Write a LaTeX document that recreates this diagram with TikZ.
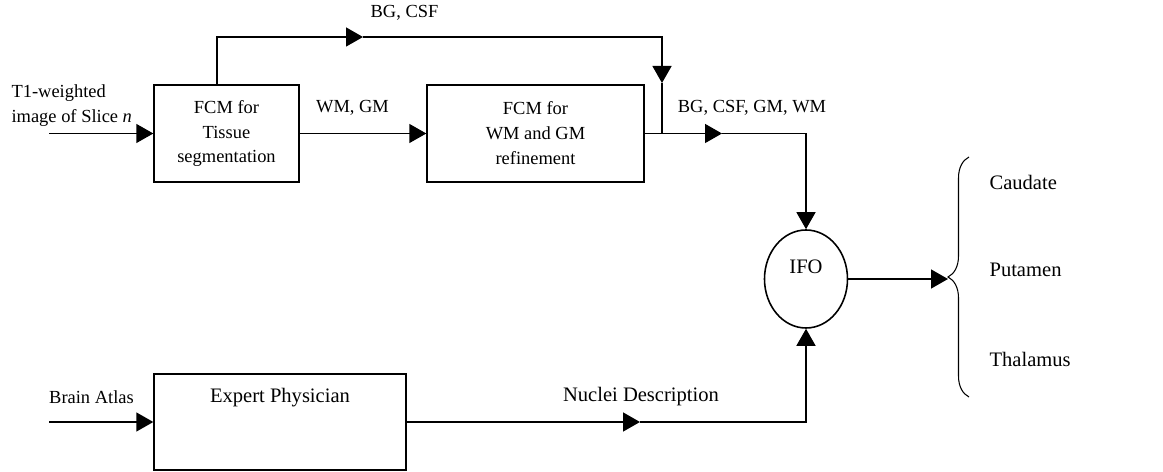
\documentclass[tikz,border=0pt]{standalone}
\usepackage{fontspec}
\setmainfont{Liberation Serif}
\usetikzlibrary{arrows.meta,shapes.geometric,decorations.pathreplacing}

\begin{document}
\begin{tikzpicture}[every node/.style={font=\fontsize{10.5}{14.2}\selectfont}, line width=0.8pt]
  \tikzset{
    blk/.style={rectangle, draw, align=center},
    big/.style={font=\fontsize{11.7}{14}\selectfont},
    flow/.style={-{Triangle[length=3.4mm,width=3.8mm]}}
  }
  \useasboundingbox (0,0) rectangle (23.26,9.44);
  % blocks
  \node[blk, minimum width=2.90cm, minimum height=1.94cm] (fcm1) at (4.53,6.77) {FCM for\\Tissue\\segmentation};
  \node[blk, minimum width=4.34cm, minimum height=1.94cm] (fcm2) at (10.71,6.77) {FCM for\\WM and GM\\refinement};
  \node[blk, minimum width=5.04cm, minimum height=1.92cm] (exp) at (5.60,1.00) {};
  \node[big] (exptxt) at (5.60,1.48) {Expert Physician};
  \node[ellipse, draw, line width=0.9pt, minimum width=1.66cm, minimum height=1.96cm] (ifo) at (16.12,3.86) {};
  \node[big] (ifotxt) at (16.12,4.10) {IFO};
  % labels
  \node[anchor=west, align=left] (t1) at (0.10,7.33) {T1-weighted\\image of Slice \textit{n}};
  \node (bgcsf) at (8.09,9.18) {BG, CSF};
  \node (wmgm) at (7.05,7.28) {WM, GM};
  \node (all) at (15.04,7.28) {BG, CSF, GM, WM};
  \node (atlas) at (1.83,1.50) {Brain Atlas};
  \node[big] (nuc) at (12.82,1.50) {Nuclei Description};
  \node[big, anchor=west] (cau) at (19.66,5.80) {Caudate};
  \node[big, anchor=west] (put) at (19.66,4.04) {Putamen};
  \node[big, anchor=west] (tha) at (19.66,2.26) {Thalamus};
  % points
  \coordinate (in1) at (0.98,6.77);
  \coordinate (in2) at (0.98,1.00);
  \coordinate (br) at (4.34,7.74);
  \coordinate (bgtip) at (7.26,8.70);
  \coordinate (dtip) at (13.24,7.78);
  \coordinate (jn) at (13.24,6.77);
  \coordinate (alltip) at (14.44,6.77);
  \coordinate (nuctip) at (12.80,1.00);
  \coordinate (brtip) at (18.96,3.86);
  \coordinate (brlo) at (19.38,1.50);
  \coordinate (brhi) at (19.38,6.30);
  % connectors
  \draw[flow] (in1) -- (fcm1.west);
  \draw[flow] (fcm1.east) -- (fcm2.west);
  \draw[flow] (br) |- (bgtip);
  \draw[flow] (bgtip) -| (dtip);
  \draw (dtip) -- (jn);
  \draw[flow] (fcm2.east) -- (alltip);
  \draw[flow] (alltip) -| (ifo.north);
  \draw[flow] (in2) -- (exp.west);
  \draw[flow] (exp.east) -- (nuctip);
  \draw[flow] (nuctip) -| (ifo.south);
  \draw[flow] (ifo.east) -- (brtip);
  \draw[line width=0.6pt, decorate, decoration={brace, amplitude=0.42cm}] (brlo) -- (brhi);
\end{tikzpicture}
\end{document}
